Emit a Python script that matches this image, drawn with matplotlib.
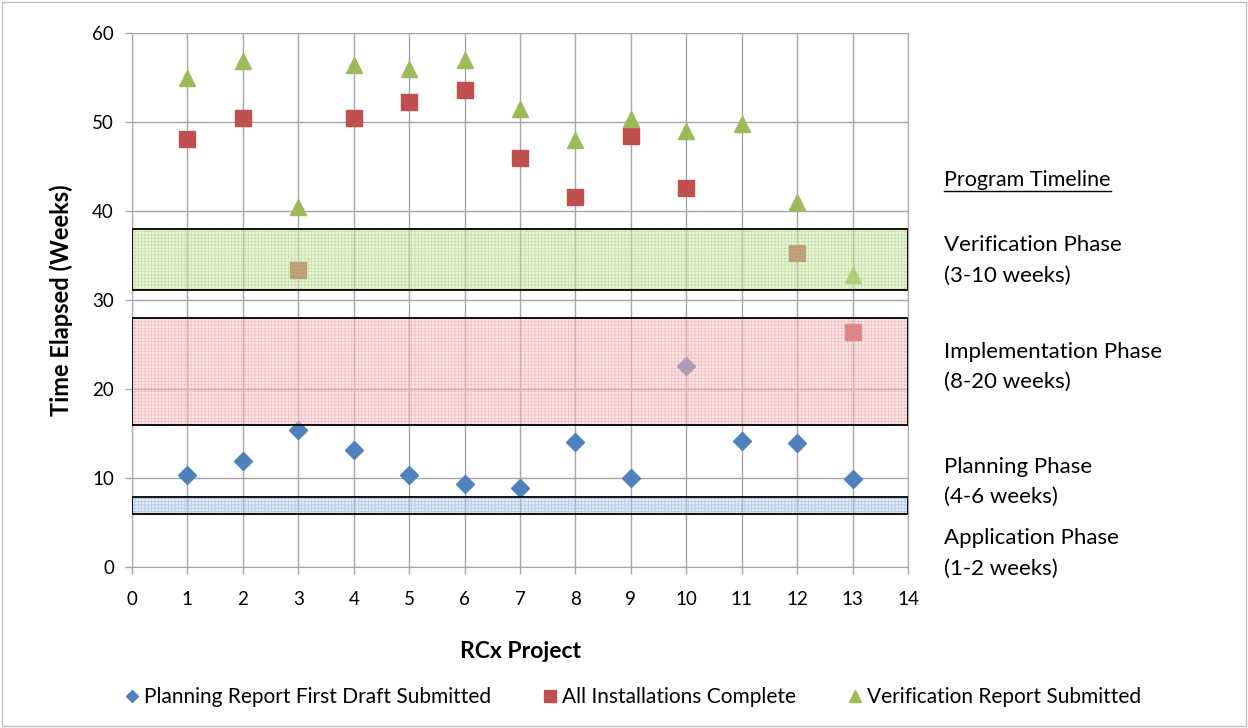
import matplotlib
matplotlib.use("Agg")
import matplotlib.pyplot as plt
from matplotlib.patches import Rectangle
from matplotlib.lines import Line2D

plt.rcParams['font.family'] = ['Lato', 'DejaVu Sans']
plt.rcParams['hatch.linewidth'] = 0.6

# ---- data ----
projects = [1, 2, 3, 4, 5, 6, 7, 8, 9, 10, 11, 12, 13]
planning_draft = [10.3, 11.9, 15.4, 13.2, 10.3, 9.3, 8.9, 14.0, 10.05, 22.6, 14.2, 13.9, 9.9]
installs_complete = [48.1, 50.45, 33.4, 50.45, 52.3, 53.6, 46.0, 41.6, 48.4, 42.6, None, 35.3, 26.4]
verification_report = [54.9, 56.8, 40.5, 56.4, 55.9, 57.0, 51.5, 48.0, 50.3, 49.0, 49.8, 41.0, 32.8]

series_names = ["Planning Report First Draft Submitted", "All Installations Complete",
                "Verification Report Submitted"]

# phase bands: (bottom, top)
band_ranges = [(6.0, 7.9), (16.0, 28.0), (31.1, 38.0)]
band_fill = ["#c2d4ef", "#f8cccc", "#d2eab4"]
band_hatch = ["#7fa2d8", "#e58f8f", "#9ccc66"]

phase_labels = [("Verification Phase", "(3-10 weeks)"),
                ("Implementation Phase", "(8-20 weeks)"),
                ("Planning Phase", "(4-6 weeks)"),
                ("Application Phase", "(1-2 weeks)")]

x_ticks = list(range(0, 15))
y_ticks = list(range(0, 61, 10))

# ---- figure ----
fig = plt.figure(figsize=(12.48, 7.28), dpi=100)
ax = fig.add_axes([132/1248, 1-567/728, (908-132)/1248, (567-33)/728])

ax.set_xlim(0, 14)
ax.set_ylim(0, 60)
ax.set_xticks(x_ticks)
ax.set_yticks(y_ticks)
ax.grid(True, color="#a6a6a6", linewidth=1.0, zorder=0)
ax.set_axisbelow(True)
for s in ax.spines.values():
    s.set_color("#a6a6a6")
ax.tick_params(axis='both', colors="#a6a6a6", labelcolor="black", labelsize=13.5,
               length=5, width=1)
ax.tick_params(axis='x', pad=12)
ax.tick_params(axis='y', pad=8)

blue, red, green = "#4f81bd", "#c0504d", "#9bbb59"
px = [p for p, v in zip(projects, installs_complete) if v is not None]
pv = [v for v in installs_complete if v is not None]
ax.plot(projects, planning_draft, linestyle='none', marker='D', markersize=8.7,
        color=blue, zorder=3, label=series_names[0])
ax.plot(px, pv, linestyle='none', marker='s', markersize=12,
        color=red, zorder=3, label=series_names[1])
ax.plot(projects, verification_report, linestyle='none', marker='^', markersize=12,
        color=green, zorder=3, label=series_names[2])

for (b0, b1), fc, hc in zip(band_ranges, band_fill, band_hatch):
    ax.add_patch(Rectangle((0, b0), 14, b1 - b0, facecolor=fc, edgecolor=hc,
                           hatch='+++++', linewidth=0, alpha=0.45, zorder=4))
    ax.add_patch(Rectangle((0, b0), 14, b1 - b0, fill=False, edgecolor='black',
                           linewidth=1.3, zorder=5))

ax.set_xlabel("RCx Project", fontsize=16.5, fontweight='bold', labelpad=24)
ax.set_ylabel("Time Elapsed (Weeks)", fontsize=17, fontweight='bold', labelpad=14)

# right side annotations
tx = 944/1248
t = fig.text(tx, 1-180/728, "Program Timeline", fontsize=15.5, va='center', ha='left')
ys = [(245, 276), (352, 382), (467, 497), (538, 569)]
for (l1, l2), (y1, y2) in zip(phase_labels, ys):
    fig.text(tx, 1-y1/728, l1, fontsize=16, va='center', ha='left')
    fig.text(tx, 1-y2/728, l2, fontsize=16, va='center', ha='left')

fig.canvas.draw()
bb = t.get_window_extent(fig.canvas.get_renderer())
uy = (bb.y0 - 1) / fig.bbox.height
fig.add_artist(Line2D([bb.x0 / fig.bbox.width, bb.x1 / fig.bbox.width], [uy, uy],
                      color='black', linewidth=1.0, transform=fig.transFigure))

handles, labels = ax.get_legend_handles_labels()
fig.legend(handles, labels, loc='center', bbox_to_anchor=(0.508, 1-697/728), ncol=3,
           frameon=False, fontsize=15, markerscale=0.75, handlelength=0.5,
           handletextpad=0.3, columnspacing=2.6)

# outer border
fig.add_artist(Rectangle((0.002, 0.003), 0.996, 0.994, fill=False, edgecolor="#bfbfbf",
                         linewidth=1.0, transform=fig.transFigure))

fig.savefig("out.png", dpi=100)
